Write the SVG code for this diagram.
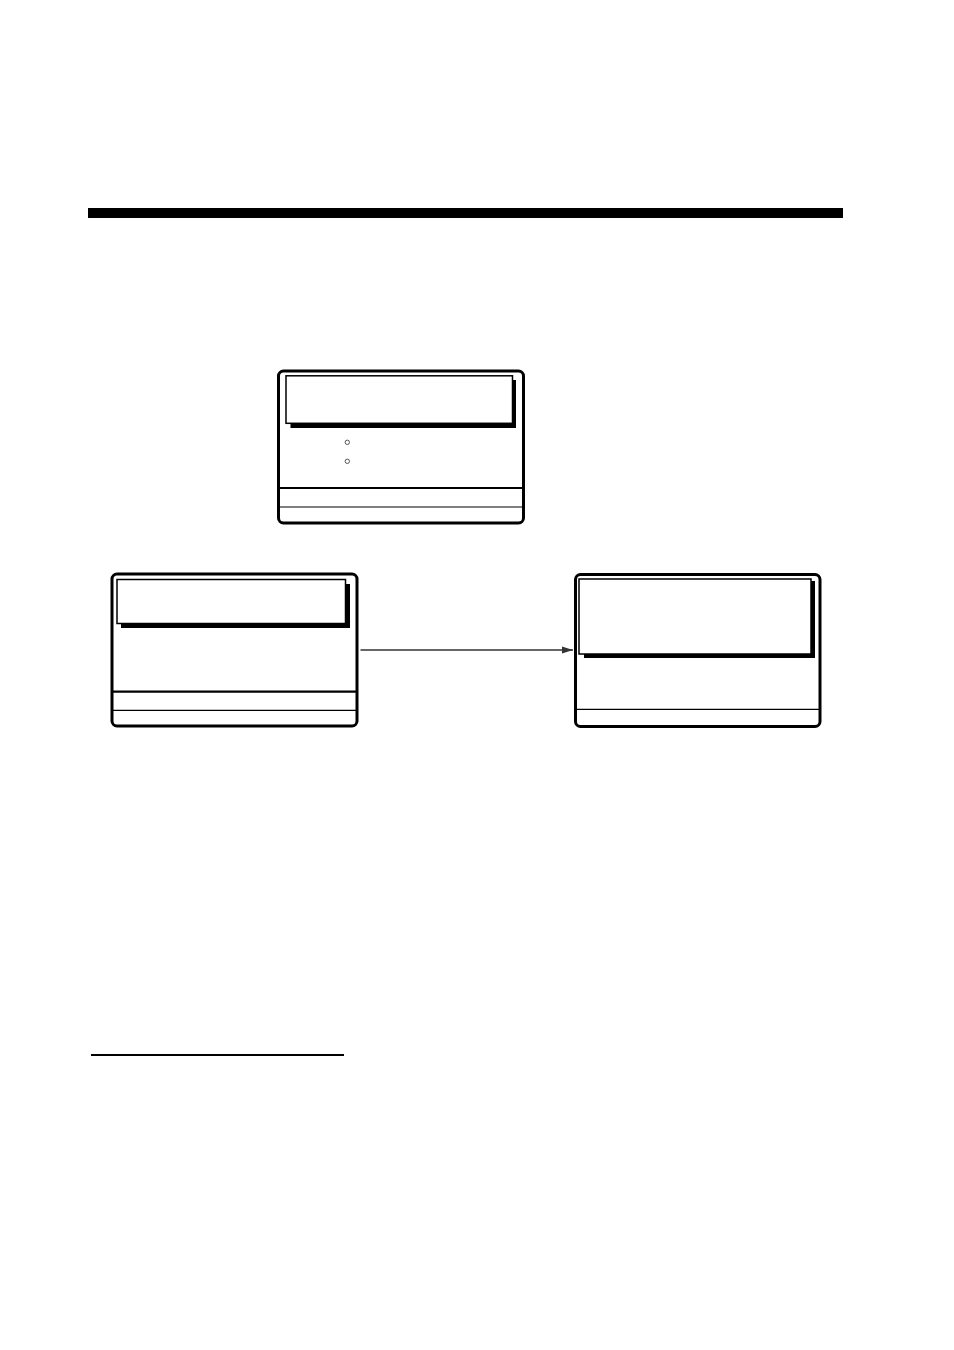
<svg xmlns="http://www.w3.org/2000/svg" width="954" height="1350" viewBox="0 0 954 1350">
<defs>
<style>
.outer{fill:#fff;stroke:#000;stroke-width:3}
.title{fill:#fff;stroke:#000;stroke-width:1.5}
.shadow{fill:#000}
.thick{stroke:#000;stroke-width:2.2}
.thin{stroke:#000;stroke-width:1.2}
.dot{fill:none;stroke:#555;stroke-width:1}
.conn{stroke:#333;stroke-width:1.6;fill:none}
</style>
<marker id="arr" markerWidth="12" markerHeight="8" refX="11" refY="4" orient="auto" markerUnits="userSpaceOnUse">
<path d="M0,0.5 L11,4 L0,7.5 Z" fill="#333"/>
</marker>
</defs>
<rect width="954" height="1350" fill="#fff"/>
<rect id="header-bar" x="88" y="208" width="755" height="10" fill="#000"/>
<g id="screen-top">
<rect class="outer" x="278.5" y="371" width="245" height="152" rx="5"/>
<rect class="shadow" x="512" y="380" width="4" height="48"/>
<rect class="shadow" x="290.5" y="423" width="225.5" height="5"/>
<rect class="title" x="286" y="375.8" width="226.5" height="47.5"/>
<circle class="dot" cx="347.3" cy="442.3" r="2.2"/>
<circle class="dot" cx="347.3" cy="461.3" r="2.2"/>
<line class="thick" x1="279" y1="488" x2="523" y2="488"/>
<line class="thin" x1="279" y1="507" x2="523" y2="507"/>
</g>
<g id="screen-left">
<rect class="outer" x="112" y="574" width="245" height="152" rx="5"/>
<rect class="shadow" x="345.5" y="584" width="4.5" height="44"/>
<rect class="shadow" x="121" y="623.5" width="229" height="4.5"/>
<rect class="title" x="117" y="579.5" width="228.5" height="44"/>
<line class="thick" x1="113" y1="691.7" x2="356" y2="691.7"/>
<line class="thin" x1="113" y1="710.3" x2="356" y2="710.3"/>
</g>
<g id="screen-right">
<rect class="outer" x="575.5" y="574.5" width="244.5" height="152" rx="5"/>
<rect class="shadow" x="811" y="581" width="4" height="77"/>
<rect class="shadow" x="584" y="654" width="231" height="4"/>
<rect class="title" x="579" y="579" width="232" height="75"/>
<line class="thin" x1="577" y1="709.3" x2="819" y2="709.3"/>
</g>
<g id="connectors">
<line class="conn" x1="360.5" y1="650" x2="573" y2="650" marker-end="url(#arr)"/>
</g>
<line id="footnote-rule" x1="91" y1="1055" x2="344" y2="1055" stroke="#000" stroke-width="2"/>
</svg>
